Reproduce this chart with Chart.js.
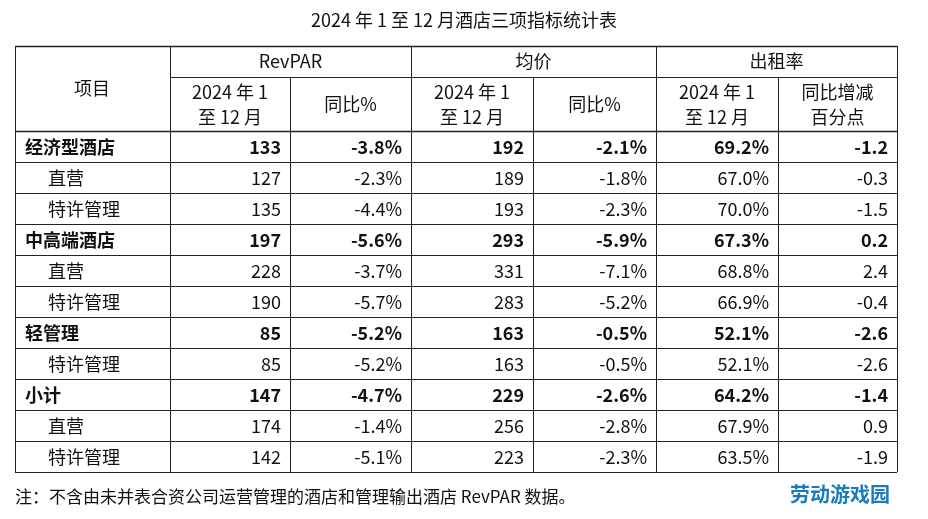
<!DOCTYPE html><html><head><meta charset="utf-8">
<script src="https://cdn.jsdelivr.net/npm/chart.js@4"></script>
<style>body{margin:0;background:#fff}</style></head><body>
<canvas id="c" width="928" height="519"></canvas>
<script>
const categories=["经济型酒店","直营","特许管理","中高端酒店","直营","特许管理","轻管理","特许管理","小计","直营","特许管理"];
const boldRows=[true,false,false,true,false,false,true,false,true,false,false];
const revpar=[133,127,135,197,228,190,85,85,147,174,142];
const revparYoy=[-3.8,-2.3,-4.4,-5.6,-3.7,-5.7,-5.2,-5.2,-4.7,-1.4,-5.1];
const adr=[192,189,193,293,331,283,163,163,229,256,223];
const adrYoy=[-2.1,-1.8,-2.3,-5.9,-7.1,-5.2,-0.5,-0.5,-2.6,-2.8,-2.3];
const occ=[69.2,67.0,70.0,67.3,68.8,66.9,52.1,52.1,64.2,67.9,63.5];
const occYoy=[-1.2,-0.3,-1.5,0.2,2.4,-0.4,-2.6,-2.6,-1.4,0.9,-1.9];
const groupHeaders=["RevPAR","均价","出租率"];
const subHeaders=[["2024 年 1","至 12 月"],["同比%"],["2024 年 1","至 12 月"],["同比%"],["2024 年 1","至 12 月"],["同比增减","百分点"]];
const titleText="2024 年 1 至 12 月酒店三项指标统计表";
const noteText="注：不含由未并表合资公司运营管理的酒店和管理输出酒店 RevPAR 数据。";

const colEdges=[0,155,275,396,518,641,763,882];
const rowEdges=[0,31,85];for(let i=0;i<categories.length;i++)rowEdges.push(85+31*(i+1));
const FONT='"Noto Sans CJK SC", sans-serif';
const fmt=(v,d)=>(v<0?"-":"")+Math.abs(v).toFixed(d);

const tablePlugin={id:'table',afterDraw(ch){
 const c=ch.ctx,X=ch.scales.x,Y=ch.scales.y;
 const px=v=>X.getPixelForValue(v),py=v=>Y.getPixelForValue(v);
 c.save();c.fillStyle='#111';c.textBaseline='middle';
 c.font='18px '+FONT;c.textAlign='center';c.fillText(titleText,464,20);
 c.textAlign='left';c.font='17px '+FONT;c.fillText(noteText,15,497);
 c.font='bold 20px '+FONT;c.fillStyle='#1a7ac0';c.fillText("劳动游戏园",790,494);
 c.fillStyle='#111';
 // lines
 c.strokeStyle='#222';c.lineWidth=1;
 const hl=(y,a,b,w)=>{c.lineWidth=w||1;c.beginPath();c.moveTo(px(a),Math.round(py(y))+0.5);c.lineTo(px(b),Math.round(py(y))+0.5);c.stroke();};
 const vl=(x,a,b)=>{c.lineWidth=1;c.beginPath();c.moveTo(Math.round(px(x))+0.5,py(a));c.lineTo(Math.round(px(x))+0.5,py(b));c.stroke();};
 const R=rowEdges.length-1,N=colEdges.length-1;
 hl(0,0,882,1.5);hl(31,155,882);hl(85,0,882,1.5);
 for(let i=3;i<=R;i++)hl(rowEdges[i],0,882);
 vl(0,0,rowEdges[R]);vl(882,0,rowEdges[R]);vl(155,0,rowEdges[R]);vl(396,0,rowEdges[R]);vl(641,0,rowEdges[R]);
 [275,518,763].forEach(x=>vl(x,31,rowEdges[R]));
 // headers
 c.font='18px '+FONT;c.textAlign='center';
 c.fillText("项目",px(77),py(42));
 groupHeaders.forEach((g,i)=>c.fillText(g,(px(colEdges[1+2*i])+px(colEdges[3+2*i]))/2,py(15.5)));
 subHeaders.forEach((s,i)=>{const cx=(px(colEdges[i+1])+px(colEdges[i+2]))/2;
  if(s.length==1)c.fillText(s[0],cx,py(58));else{c.fillText(s[0],cx,py(46));c.fillText(s[1],cx,py(71));}});
 // data
 categories.forEach((cat,i)=>{
  const y=(py(rowEdges[i+2])+py(rowEdges[i+3]))/2+1;
  c.font=(boldRows[i]?'bold ':'')+'18px '+FONT;
  c.textAlign='left';c.fillText(cat,px(boldRows[i]?10:33),y);
  c.textAlign='right';
  const vals=[String(revpar[i]),fmt(revparYoy[i],1)+"%",String(adr[i]),fmt(adrYoy[i],1)+"%",occ[i].toFixed(1)+"%",fmt(occYoy[i],1)];
  vals.forEach((v,j)=>c.fillText(v,px(colEdges[j+2])-9,y));
 });
 c.restore();
}};
new Chart(document.getElementById('c'),{type:'scatter',data:{datasets:[{data:[]}]},
 options:{responsive:false,devicePixelRatio:1,animation:false,
  layout:{padding:{left:15,right:31,top:46,bottom:47}},
  plugins:{legend:{display:false},tooltip:{enabled:false}},
  scales:{x:{type:'linear',min:0,max:882,display:false},y:{type:'linear',min:0,max:426,reverse:true,display:false}}},
 plugins:[tablePlugin]});
</script></body></html>
